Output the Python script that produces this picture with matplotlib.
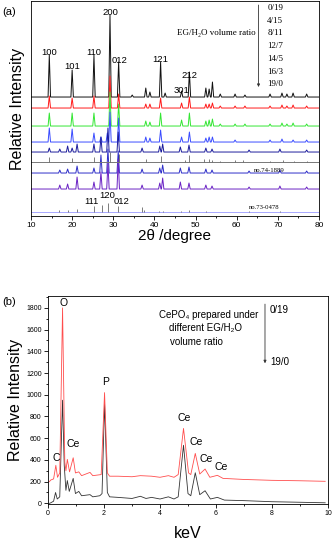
"""XRD patterns (a) and EDS spectra (b) of CePO4 grown in EG/H2O mixtures."""

from __future__ import annotations

import matplotlib

matplotlib.use("Agg")

import matplotlib.pyplot as plt
from matplotlib.ticker import MultipleLocator

# ---- panel (a): XRD peak tables, (2theta, height) ----
ratio_labels = ["0/19", "4/15", "8/11", "12/7", "14/5", "16/3", "19/0"]

xrd_black = [(14.45, 42), (20.0, 27), (25.3, 42), (29.2, 82), (31.3, 35), (34.6, 2),
             (37.9, 9), (38.9, 5), (41.5, 35), (42.6, 4), (46.6, 6), (48.5, 25),
             (52.5, 9), (53.3, 8), (54.1, 15), (56.0, 3), (59.6, 3), (62.0, 2),
             (68.1, 3), (71.0, 4), (72.2, 3), (73.7, 4), (77.0, 3)]
xrd_red = [(14.45, 12), (20.0, 10), (25.3, 12), (29.2, 32), (31.3, 14), (37.9, 4),
           (38.9, 4), (41.5, 10), (46.6, 5), (48.5, 11), (52.5, 4), (53.3, 4),
           (54.1, 5), (56.0, 2), (59.6, 2), (62.0, 2), (68.1, 2), (71.0, 3),
           (72.2, 2), (73.7, 3), (77.0, 2)]
xrd_green = [(14.45, 13), (20.0, 13), (25.3, 13), (29.2, 34), (31.3, 22), (37.9, 5),
             (38.9, 4), (41.5, 13), (46.6, 6), (48.5, 13), (52.5, 5), (53.3, 6),
             (54.1, 7), (56.0, 2), (59.6, 2), (62.0, 2), (68.1, 2), (71.0, 3),
             (72.2, 2), (73.7, 3), (77.0, 2)]
xrd_blue1 = [(14.45, 14), (20.0, 13), (25.3, 9), (27.0, 5), (28.55, 9), (29.2, 30),
             (31.3, 24), (37.9, 5), (38.9, 4), (41.5, 12), (46.6, 5), (48.5, 10),
             (52.5, 4), (53.3, 5), (54.1, 5), (59.6, 2), (68.1, 2), (71.0, 3),
             (73.7, 2), (77.0, 2)]
xrd_blue2 = [(14.45, 4), (17.0, 3), (18.9, 6), (20.0, 4), (21.2, 8), (25.3, 8),
             (27.0, 15), (28.7, 24), (31.2, 20), (37.0, 4), (41.3, 6), (42.0, 8),
             (46.3, 5), (48.4, 7), (52.5, 4), (54.0, 3), (63.0, 2), (70.5, 3),
             (77.0, 2)]
xrd_blue3 = [(17.0, 3), (18.9, 4), (21.2, 7), (25.3, 5), (27.0, 18), (28.7, 24),
             (31.2, 22), (37.0, 4), (41.3, 5), (42.0, 8), (46.3, 5), (48.4, 6),
             (52.5, 4), (54.0, 3), (63.0, 2), (70.5, 3), (77.0, 2)]
xrd_purple = [(17.0, 4), (18.9, 5), (21.2, 12), (25.3, 7), (27.0, 17), (28.7, 26),
              (31.2, 30), (37.0, 4), (41.3, 6), (42.0, 11), (46.3, 7), (48.4, 6),
              (52.5, 4), (54.0, 3), (63.0, 2), (70.5, 3), (77.0, 2)]

# reference cards, stick positions and heights
card_hex = [(14.45, 5), (20.0, 4), (25.3, 5), (29.2, 10), (31.3, 8), (37.9, 3),
            (41.5, 6), (47.5, 2), (48.5, 7), (52.0, 3), (53.3, 3), (54.1, 2),
            (56.0, 1), (59.6, 2), (61.6, 2), (68.0, 1), (71.2, 2), (74.0, 1), (77.0, 1)]
card_mono = [(16.9, 2), (18.9, 2), (21.3, 3), (25.3, 6), (27.2, 7), (28.7, 9),
             (31.2, 6), (36.9, 5), (37.4, 2), (41.0, 1), (42.0, 1), (46.5, 1),
             (48.3, 2), (52.5, 1), (63.0, 1), (70.5, 1)]

# ---- panel (b): EDS spectra, (keV, counts) ----
eds_black_kev = [0.05, 0.1, 0.2, 0.27, 0.33, 0.42, 0.52, 0.58, 0.64, 0.69, 0.76,
                 0.9, 0.98, 1.1, 1.2, 1.5, 1.6, 1.85, 1.93, 2.02, 2.12, 2.2, 2.5,
                 3.0, 3.3, 3.5, 3.7, 4.0, 4.3, 4.5, 4.65, 4.84, 5.0, 5.1, 5.26,
                 5.42, 5.61, 5.8, 6.05, 6.3, 7.0, 8.0, 9.0, 9.9]
eds_black = [0, 5, 20, 100, 40, 60, 950, 350, 120, 210, 110, 230, 90, 110, 70, 80,
             60, 70, 90, 925, 100, 60, 55, 45, 65, 45, 55, 40, 60, 40, 60, 535, 90,
             70, 282, 80, 116, 40, 55, 30, 25, 15, 10, 5]
eds_red_kev = [0.05, 0.1, 0.2, 0.28, 0.34, 0.42, 0.52, 0.6, 0.64, 0.69, 0.77, 0.9,
               0.98, 1.1, 1.2, 1.5, 1.6, 1.9, 2.02, 2.12, 2.2, 2.5, 3.0, 3.3, 3.7,
               4.0, 4.3, 4.5, 4.65, 4.84, 5.02, 5.1, 5.26, 5.42, 5.61, 5.78, 6.05,
               6.25, 7.0, 8.0, 9.0, 9.9]
eds_red = [200, 215, 225, 350, 240, 280, 1800, 380, 300, 405, 290, 420, 280, 290,
           255, 285, 255, 265, 1020, 280, 250, 250, 245, 255, 250, 240, 255, 240,
           265, 690, 280, 265, 460, 270, 316, 240, 258, 230, 220, 212, 208, 203]

SANS = ["Liberation Sans", "DejaVu Sans"]
SERIF = ["Liberation Serif", "DejaVu Serif"]


def peak_line(peaks, offset, half_width=0.3, x_min=10.0, x_max=80.0):
    xs, ys = [x_min], [offset]
    for pos, height in sorted(peaks):
        xs += [pos - half_width, pos, pos + half_width]
        ys += [offset, offset + height, offset]
    xs.append(x_max)
    ys.append(offset)
    return xs, ys


def draw_card(ax, sticks, offset, color, base_color):
    ax.axhline(offset, color=base_color, lw=0.7)
    for pos, height in sticks:
        ax.vlines(pos, offset, offset + height, color=color, lw=0.6)


def style_axis(ax):
    for side in ax.spines.values():
        side.set_linewidth(0.6)
    ax.tick_params(which="both", direction="out", top=False, right=False, width=0.6)
    ax.tick_params(which="major", length=3, pad=1.5)
    ax.tick_params(which="minor", length=1.6)


def panel_xrd(ax):
    traces = [
        (xrd_black, 119, "#111111"),
        (xrd_red, 108, "#ff1a1a"),
        (xrd_green, 90, "#33e633"),
        (xrd_blue1, 74, "#3a4cff"),
        (xrd_blue2, 64, "#1c1c9c"),
        (xrd_blue3, 43, "#2e2ec8"),
        (xrd_purple, 27, "#6a22c4"),
    ]
    for peaks, offset, color in traces:
        xs, ys = peak_line(peaks, offset)
        ax.plot(xs, ys, color=color, lw=0.7)

    draw_card(ax, card_hex, 54, "#666666", "#777777")
    draw_card(ax, card_mono, 4, "#666666", "#a8a8ff")

    ax.set_xlim(10, 80)
    ax.set_ylim(0, 215)
    ax.set_yticks([])
    ax.xaxis.set_major_locator(MultipleLocator(10))
    ax.xaxis.set_minor_locator(MultipleLocator(5))
    style_axis(ax)
    for lab in ax.get_xticklabels():
        lab.set_fontsize(6)
        lab.set_family(SANS)
    ax.set_xlabel("2θ /degree", fontsize=11, family=SANS, labelpad=0)
    ax.set_ylabel("Relative Intensity", fontsize=11.5, family=SANS, labelpad=4)

    hkl = [("100", 14.45, 164), ("101", 20.0, 150), ("110", 25.3, 164),
           ("200", 29.2, 204), ("012", 31.6, 156), ("121", 41.5, 157),
           ("301", 46.6, 126), ("212", 48.6, 141),
           ("111", 24.6, 15), ("120", 28.6, 20.5), ("012", 32.0, 14.5)]
    for text, x, y in hkl:
        ax.text(x, y, text, fontsize=6.8, family=SANS, ha="center", va="center")

    ax.text(67.85, 46, "no.74-1889", fontsize=4.8, family=SERIF, ha="center", va="center")
    ax.text(66.6, 9, "no.73-0478", fontsize=4.8, family=SERIF, ha="center", va="center")

    ax.text(64.6, 183, "EG/H₂O volume ratio", fontsize=6.5, family=SERIF,
            ha="right", va="center")
    ax.annotate("", xy=(65.3, 129), xytext=(65.3, 211),
                arrowprops=dict(arrowstyle="-|>", color="#333333", lw=0.6,
                                mutation_scale=4, shrinkA=0, shrinkB=0))
    for i, label in enumerate(ratio_labels):
        ax.text(67.4, 208 - 12.7 * i, label, fontsize=6.5, family=SERIF,
                ha="left", va="center")


def panel_eds(ax):
    ax.plot(eds_black_kev, eds_black, color="#333333", lw=0.6)
    ax.plot(eds_red_kev, eds_red, color="#ff4d4d", lw=0.6)

    ax.set_xlim(0, 10)
    ax.set_ylim(-6, 1910)
    ax.xaxis.set_major_locator(MultipleLocator(2))
    ax.xaxis.set_minor_locator(MultipleLocator(1))
    ax.yaxis.set_major_locator(MultipleLocator(200))
    ax.yaxis.set_minor_locator(MultipleLocator(100))
    style_axis(ax)
    for lab in ax.get_xticklabels() + ax.get_yticklabels():
        lab.set_fontsize(5)
        lab.set_family(SANS)
    ax.set_xlabel("keV", fontsize=11.5, family=SANS, labelpad=6)
    ax.set_ylabel("Relative Intensity", fontsize=11.5, family=SANS, labelpad=2)

    elements = [("O", 0.54, 1846), ("P", 2.04, 1118), ("Ce", 4.86, 786),
                ("Ce", 5.29, 565), ("Ce", 5.64, 408), ("Ce", 6.18, 335),
                ("Ce", 0.89, 547), ("C", 0.29, 418)]
    for text, x, y in elements:
        ax.text(x, y, text, fontsize=7.5, family=SANS, ha="center", va="center")

    ax.text(3.96, 1737, "CePO₄ prepared under", fontsize=7, family=SANS, va="center")
    ax.text(4.32, 1617, "different EG/H₂O", fontsize=7, family=SANS, va="center")
    ax.text(4.36, 1488, "volume ratio", fontsize=7, family=SANS, va="center")
    ax.annotate("", xy=(7.75, 1290), xytext=(7.75, 1835),
                arrowprops=dict(arrowstyle="-|>", color="#333333", lw=0.6,
                                mutation_scale=4, shrinkA=0, shrinkB=0))
    ax.text(7.93, 1780, "0/19", fontsize=7, family=SANS, va="center")
    ax.text(7.93, 1300, "19/0", fontsize=7, family=SANS, va="center")


def main() -> None:
    fig = plt.figure(figsize=(3.34, 5.41), dpi=100)
    ax_a = fig.add_axes([0.0928, 0.6007, 0.8623, 0.3974])
    ax_b = fig.add_axes([0.1437, 0.0684, 0.8383, 0.3845])
    panel_xrd(ax_a)
    panel_eds(ax_b)
    fig.text(0.006, 0.978, "(a)", fontsize=8, family=SANS, va="center")
    fig.text(0.006, 0.442, "(b)", fontsize=8, family=SANS, va="center")
    fig.savefig("out.png", dpi=100)
    plt.close(fig)


if __name__ == "__main__":
    main()
